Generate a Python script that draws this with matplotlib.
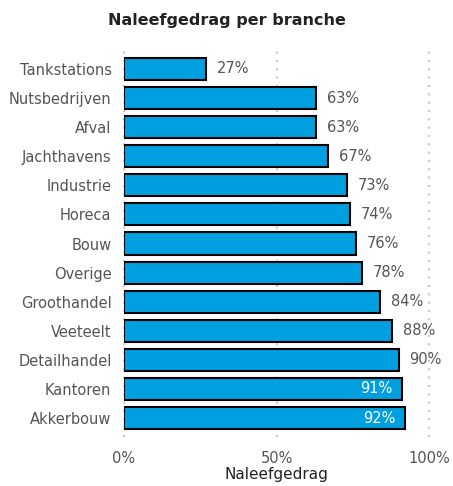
import matplotlib
matplotlib.use("Agg")
import matplotlib.pyplot as plt
from matplotlib.ticker import FuncFormatter

categories = ["Tankstations", "Nutsbedrijven", "Afval", "Jachthavens", "Industrie",
              "Horeca", "Bouw", "Overige", "Groothandel", "Veeteelt", "Detailhandel",
              "Kantoren", "Akkerbouw"]
values = [27, 63, 63, 67, 73, 74, 76, 78, 84, 88, 90, 91, 92]
inside = [False] * 11 + [True, True]
xticks = [0, 50, 100]

plt.rcParams['font.family'] = ['DejaVu Sans']
fig = plt.figure(figsize=(4.53, 4.86), dpi=100)
ax = fig.add_axes([124/453, 1-437/486, (429-124)/453, (437-50)/486])

y = list(range(len(categories)))
ax.barh(y, values, height=0.76, color="#009fdf", edgecolor="black", linewidth=1.5, zorder=3)
ax.set_ylim(12.65, -0.65)
ax.set_xlim(0, 100)
ax.set_yticks(y)
ax.set_yticklabels(categories, fontsize=10.5, color="#555555")
ax.set_xticks(xticks)
ax.xaxis.set_major_formatter(FuncFormatter(lambda v, p: f"{int(v)}%"))
ax.tick_params(axis='x', labelsize=10.5, labelcolor="#555555", length=0, pad=10)
ax.tick_params(axis='y', length=0, pad=9)
for s in ax.spines.values():
    s.set_visible(False)
ax.grid(axis='x', linestyle=(0, (1, 3)), color="#c8c8c8", linewidth=1.5, zorder=0)
ax.set_axisbelow(True)
for gl in ax.get_xgridlines():
    gl.set_clip_on(False)

for yi, v, ins in zip(y, values, inside):
    if ins:
        ax.text(v - 3, yi, f"{v}%", ha="right", va="center", color="white", fontsize=10.5, zorder=4)
    else:
        ax.text(v + 3.6, yi, f"{v}%", ha="left", va="center", color="#555555", fontsize=10.5, zorder=4)

ax.set_xlabel("Naleefgedrag", fontsize=11, color="#222222", labelpad=1)
fig.text(0.5, 1-20/486, "Naleefgedrag per branche", ha="center", va="center",
         fontsize=11.5, fontweight="bold", color="#222222")
fig.savefig("out.png", dpi=100)
